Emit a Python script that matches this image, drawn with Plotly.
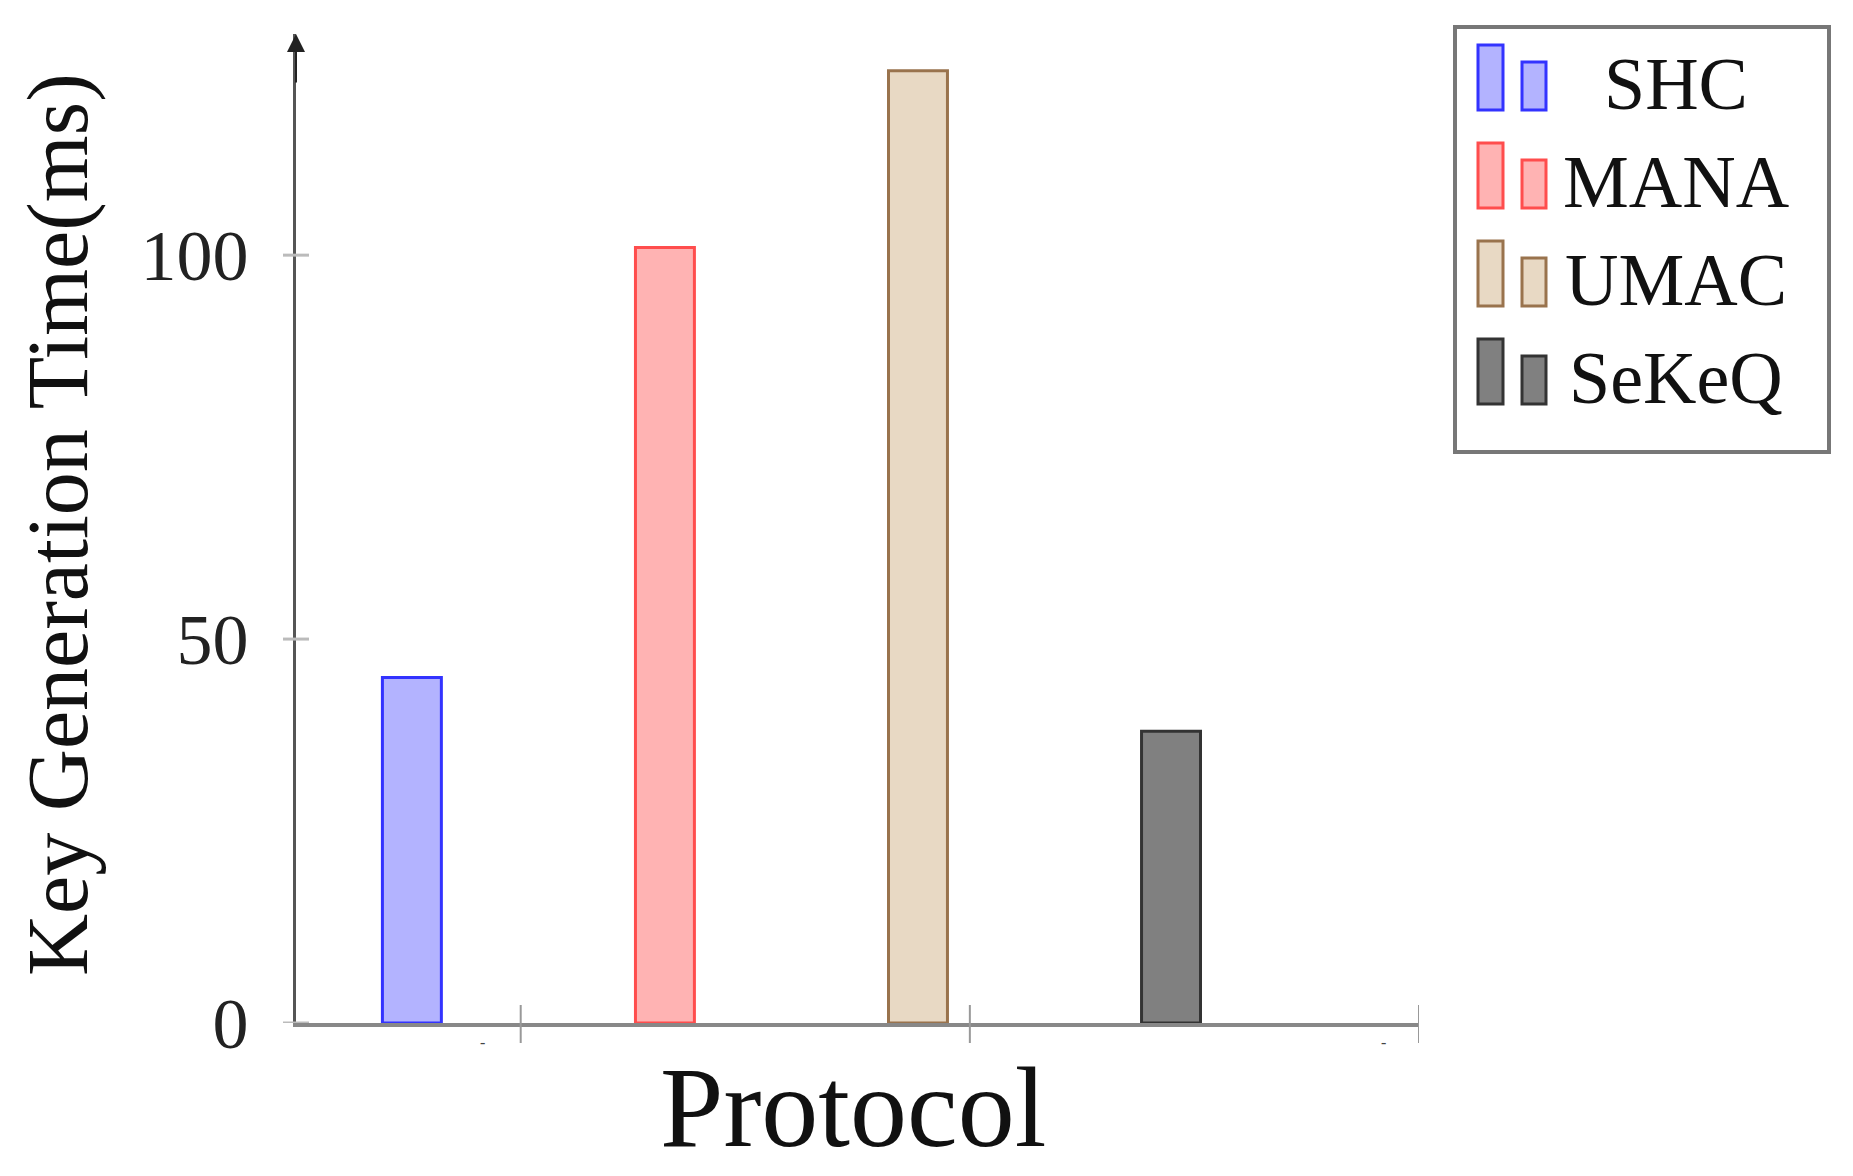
import plotly.graph_objects as go

# ── data ──────────────────────────────────────────────────────────────────────
protocols = ["SHC", "MANA", "UMAC", "SeKeQ"]
key_gen_ms = [45, 101, 124, 38]
y_ticks = [0, 50, 100]
x_tick_pos = [0.43, 2.205, 3.98]      # category-space positions of the x ticks
x_dash_pos = [0.28, 3.84]             # the tiny "-" labels under the axis

FILLS = {"SHC": "#b3b3ff", "MANA": "#ffb3b3", "UMAC": "#e8d9c4", "SeKeQ": "#808080"}
EDGES = {"SHC": "#3333ff", "MANA": "#ff4d4d", "UMAC": "#99734d", "SeKeQ": "#333333"}
FONT = "Liberation Serif, Times New Roman, serif"

W, H = 1853, 1176
L, R, T, B = 288, 442, 26, 161
pw, ph = W - L - R, H - T - B
OFF = 7   # nudge for the hand-measured page positions below


def px(x):
    return (x - OFF - L) / pw


def py(y):
    return (H - B - (y - OFF)) / ph


fig = go.Figure()
for name, val in zip(protocols, key_gen_ms):
    fig.add_trace(go.Bar(
        x=[name], y=[val], name=name, width=0.233,
        marker=dict(color=FILLS[name], line=dict(color=EDGES[name], width=3)),
        showlegend=False,
    ))

shapes = []
# x ticks crossing the axis
for xp in x_tick_pos:
    shapes.append(dict(type="line", xref="x", yref="paper", x0=xp, x1=xp,
                       y0=-20 / ph, y1=18 / ph, line=dict(color="#999", width=2)))
# y ticks crossing the axis
for yv in y_ticks:
    shapes.append(dict(type="line", xref="paper", yref="y", x0=-13 / pw, x1=13 / pw,
                       y0=yv, y1=yv, line=dict(color="#bbb", width=3)))

# ── custom legend (two bars + label per row, as pgfplots draws it) ────────────
lx0, ly0, lx1, ly1 = 1454, 26, 1828, 451
shapes.append(dict(type="rect", xref="paper", yref="paper",
                   x0=px(lx0), x1=px(lx1), y0=py(ly1), y1=py(ly0),
                   line=dict(color="#777", width=4), fillcolor="white"))
annotations = []
for i, name in enumerate(protocols):
    bottom = 109 + i * 98
    for (xa, xb, hgt) in [(1477, 1502, 65), (1521, 1545, 48)]:
        shapes.append(dict(type="rect", xref="paper", yref="paper",
                           x0=px(xa), x1=px(xb), y0=py(bottom), y1=py(bottom - hgt),
                           fillcolor=FILLS[name], line=dict(color=EDGES[name], width=3)))
    annotations.append(dict(text=name, xref="paper", yref="paper",
                            x=px(1675), y=py(bottom - 26), xanchor="center", yanchor="middle",
                            showarrow=False, font=dict(family=FONT, size=74, color="#111")))

# axis titles
annotations.append(dict(text="Key Generation Time(ms)", xref="paper", yref="paper",
                        x=px(57), y=py(524), textangle=-90, showarrow=False,
                        xanchor="center", yanchor="middle",
                        font=dict(family=FONT, size=86, color="#111")))
annotations.append(dict(text="Protocol", xref="paper", yref="paper",
                        x=px(852), y=py(1106), showarrow=False,
                        xanchor="center", yanchor="middle",
                        font=dict(family=FONT, size=114, color="#111")))
# arrow head on the y axis
annotations.append(dict(text="", xref="paper", yref="paper", x=0, y=1,
                        ax=0, ay=50, showarrow=True, arrowhead=2, arrowsize=1.8,
                        arrowwidth=2, arrowcolor="#222"))
for xp in x_dash_pos:
    annotations.append(dict(text="-", xref="x", yref="paper", x=xp, y=py(1052),
                            showarrow=False, font=dict(family=FONT, size=16, color="#444")))

fig.update_layout(
    width=W, height=H,
    margin=dict(l=L, r=R, t=T, b=B),
    paper_bgcolor="white", plot_bgcolor="white",
    barmode="overlay",
    shapes=shapes, annotations=annotations,
    xaxis=dict(range=[-0.458, 3.98], showticklabels=False, ticks="",
               showline=True, linecolor="#888", linewidth=4, showgrid=False,
               zeroline=False),
    yaxis=dict(range=[0, 128.8], tickvals=y_ticks, ticks="", showgrid=False,
               zeroline=False, showline=True, linecolor="#555", linewidth=3,
               ticklabelstandoff=30,
               tickfont=dict(family=FONT, size=72, color="#222")),
)

fig.write_html("out.html")
